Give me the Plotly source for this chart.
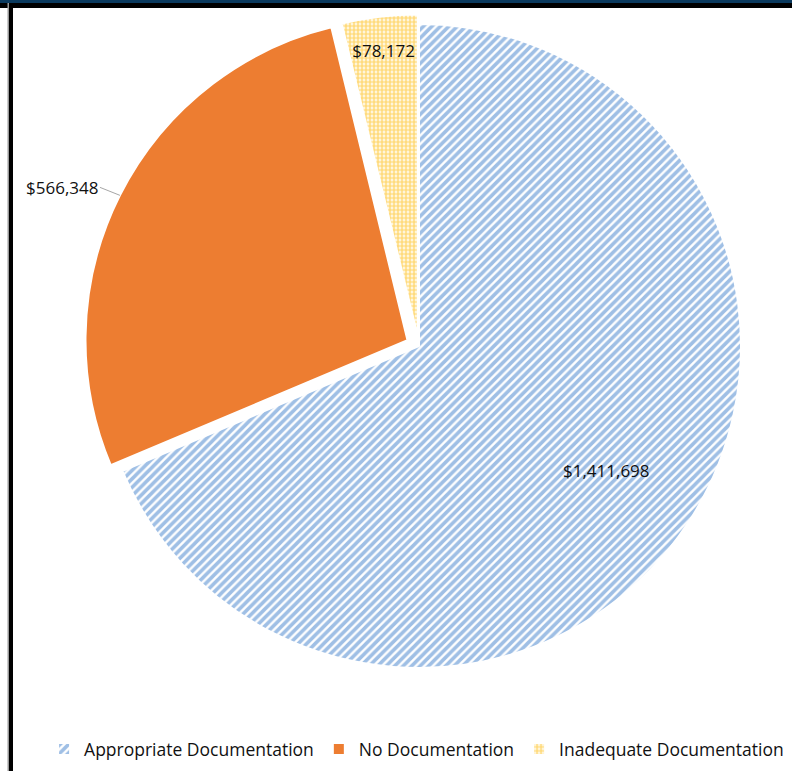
import math
import plotly.graph_objects as go

categories = ["Appropriate Documentation", "No Documentation", "Inadequate Documentation"]
amounts = [1411698, 566348, 78172]
text_labels = ["$1,411,698", "$566,348", "$78,172"]
pulls = [0, 0.04, 0.03]

W, H = 792, 771
cx, cy, r = 419, 346, 322
maxpull = max(pulls)
R = r * (1 + maxpull)
FONT = "Open Sans, Liberation Sans, sans-serif"
TXT = dict(family=FONT, size=17, color="#111111")

fig = go.Figure(go.Pie(
    labels=categories,
    values=amounts,
    text=text_labels,
    textinfo="text",
    textposition=["none", "none", "inside"],
    insidetextorientation="horizontal",
    sort=False,
    direction="clockwise",
    rotation=0,
    pull=pulls,
    marker=dict(
        colors=["#FFFFFF", "#ED7D31", "#FFFFFF"],
        line=dict(color="white", width=2),
        pattern=dict(
            shape=["/", "", "."],
            fgcolor=["#3F80CB", "#ED7D31", "#FFB800"],
            bgcolor=["#FFFFFF", "#ED7D31", "#FFFFFF"],
            size=[6, 8, 4],
            solidity=[0.6, 1, 0.7],
            fillmode="overlay",
        ),
    ),
    textfont=TXT,
    domain=dict(x=[(cx - R) / W, (cx + R) / W], y=[(H - cy - R) / H, (H - cy + R) / H]),
    showlegend=True,
))

total = sum(amounts)
cum = [sum(amounts[:i]) for i in range(len(amounts))]


def slice_point(i, frac):
    mid = math.radians(360 * (cum[i] + amounts[i] / 2) / total)
    dist = r * (frac + pulls[i])
    return cx + dist * math.sin(mid), cy - dist * math.cos(mid)


bx, by = slice_point(0, 0.7)
ox, oy = slice_point(1, 1.0)

annotations = [
    dict(x=bx / W, y=(H - by) / H, xref="paper", yref="paper", text=text_labels[0],
         showarrow=False, xanchor="center", yanchor="middle", font=TXT),
    dict(x=ox / W, y=(H - oy) / H, xref="paper", yref="paper", text=text_labels[1],
         showarrow=True, arrowhead=0, arrowwidth=1, arrowcolor="#A6A6A6",
         ax=-20, ay=-8, xanchor="right", yanchor="middle", font=TXT),
]

fig.update_layout(
    width=W, height=H,
    margin=dict(l=0, r=0, t=0, b=0, autoexpand=False),
    paper_bgcolor="white",
    font=TXT,
    legend=dict(orientation="h", x=0.526, xanchor="center", y=(H - 749) / H, yanchor="middle",
                font=dict(size=17.5), itemwidth=30),
    annotations=annotations,
    shapes=[
        dict(type="rect", xref="paper", yref="paper", x0=0, x1=1, y0=1 - 3 / H, y1=1,
             fillcolor="#0B3A5E", line=dict(width=0), layer="above"),
        dict(type="rect", xref="paper", yref="paper", x0=0, x1=1, y0=1 - 8 / H, y1=1 - 3 / H,
             fillcolor="#000000", line=dict(width=0), layer="above"),
        dict(type="rect", xref="paper", yref="paper", x0=9 / W, x1=13 / W, y0=0, y1=1 - 3 / H,
             fillcolor="#000000", line=dict(width=0), layer="above"),
        dict(type="rect", xref="paper", yref="paper", x0=7.5 / W, x1=9 / W, y0=0, y1=1 - 3 / H,
             fillcolor="#999999", line=dict(width=0), layer="above"),
    ],
)

fig.write_html("out.html")
